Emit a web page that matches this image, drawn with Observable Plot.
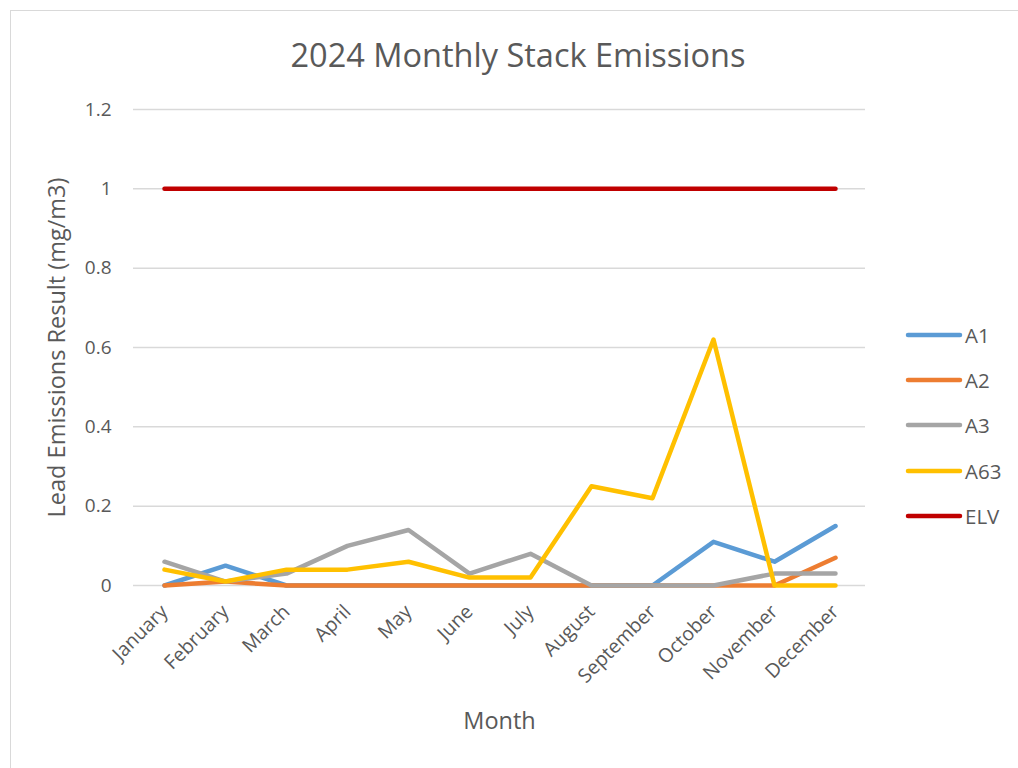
<!DOCTYPE html>
<html>
<head>
<meta charset="utf-8">
<script src="https://cdn.jsdelivr.net/npm/d3@7"></script>
<script src="https://cdn.jsdelivr.net/npm/@observablehq/plot@0.6"></script>
<style>
  html, body { margin: 0; padding: 0; background: #fff; }
  #wrap { position: relative; width: 1018px; height: 768px; font-family: "Open Sans", Lato, sans-serif; color: #595959; }
  #frame { position: absolute; left: 10px; top: 10px; width: 1010px; height: 760px; border: 1px solid #d9d9d9; box-sizing: border-box; }
  #title { position: absolute; left: 0; width: 1036px; top: 34px; text-align: center; font-size: 32.5px; line-height: 42px; color: #595959; }
  #chart { position: absolute; left: 0; top: 0; }
  #legend { position: absolute; left: 905px; top: 312px; }
  .li { display: flex; align-items: center; height: 45.3px; font-size: 20.5px; color: #595959; }
  .li svg { margin-right: 2px; }
</style>
</head>
<body>
<div id="wrap">
  <div id="frame"></div>
  <div id="chart"></div>
  <div id="title">2024 Monthly Stack Emissions</div>
  <div id="legend"></div>
</div>
<script>
const months = ["January","February","March","April","May","June","July","August","September","October","November","December"];
const A1  = [0, 0.05, 0, 0, 0, 0, 0, 0, 0, 0.11, 0.06, 0.15];
const A2  = [0, 0.01, 0, 0, 0, 0, 0, 0, 0, 0, 0, 0.07];
const A3  = [0.06, 0.01, 0.03, 0.10, 0.14, 0.03, 0.08, 0, 0, 0, 0.03, 0.03];
const A63 = [0.04, 0.01, 0.04, 0.04, 0.06, 0.02, 0.02, 0.25, 0.22, 0.62, 0, 0];
const ELV = [1, 1, 1, 1, 1, 1, 1, 1, 1, 1, 1, 1];
const seriesNames = ["A1", "A2", "A3", "A63", "ELV"];
const seriesColors = ["#5B9BD5", "#ED7D31", "#A5A5A5", "#FFC000", "#C00000"];
const yTicks = [0, 0.2, 0.4, 0.6, 0.8, 1, 1.2];

const seriesValues = [A1, A2, A3, A63, ELV];
const data = [];
seriesNames.forEach((name, si) => {
  seriesValues[si].forEach((v, i) => data.push({series: name, month: months[i], value: v}));
});

const fmt = d => d === 0 ? "0" : (Number.isInteger(d) ? String(d) : d.toFixed(1));

const chart = Plot.plot({
  width: 1018,
  height: 768,
  marginLeft: 133,
  marginRight: 153,
  marginTop: 109,
  marginBottom: 183,
  style: { fontFamily: "'Open Sans', Lato, sans-serif", fontSize: "19px", color: "#595959", background: "transparent" },
  x: { type: "point", domain: months, padding: 0.5, label: null },
  y: { domain: [0, 1.2], label: null },
  color: { domain: seriesNames, range: seriesColors },
  marks: [
    Plot.gridY(yTicks, { stroke: "#d9d9d9", strokeOpacity: 1, strokeWidth: 1.5 }),
    Plot.axisY(yTicks, { tickSize: 0, tickPadding: 22, tickFormat: fmt, fontSize: 19, fill: "#595959" }),
    Plot.axisX(months, { tickSize: 0, tickRotate: -45, tickPadding: 6, fontSize: 19.5, fill: "#595959", dx: 0, dy: 17 }),
    Plot.lineY(data, { x: "month", y: "value", z: "series", stroke: "series", strokeWidth: 4.5, strokeLinejoin: "round", strokeLinecap: "round" }),
    Plot.text(["Lead Emissions Result (mg/m3)"], { frameAnchor: "left", textAnchor: "middle", dx: -76, rotate: -90, fontSize: 23.5, fill: "#595959" }),
    Plot.text(["Month"], { frameAnchor: "bottom", dy: 143, fontSize: 23.5, fill: "#595959" })
  ]
});
document.getElementById("chart").appendChild(chart);

const legend = document.getElementById("legend");
seriesNames.forEach((name, i) => {
  const row = document.createElement("div");
  row.className = "li";
  row.innerHTML = `<svg width="58" height="8"><line x1="3" y1="4" x2="55" y2="4" stroke="${seriesColors[i]}" stroke-width="4.5" stroke-linecap="round"/></svg><span>${name}</span>`;
  legend.appendChild(row);
});
</script>
</body>
</html>
